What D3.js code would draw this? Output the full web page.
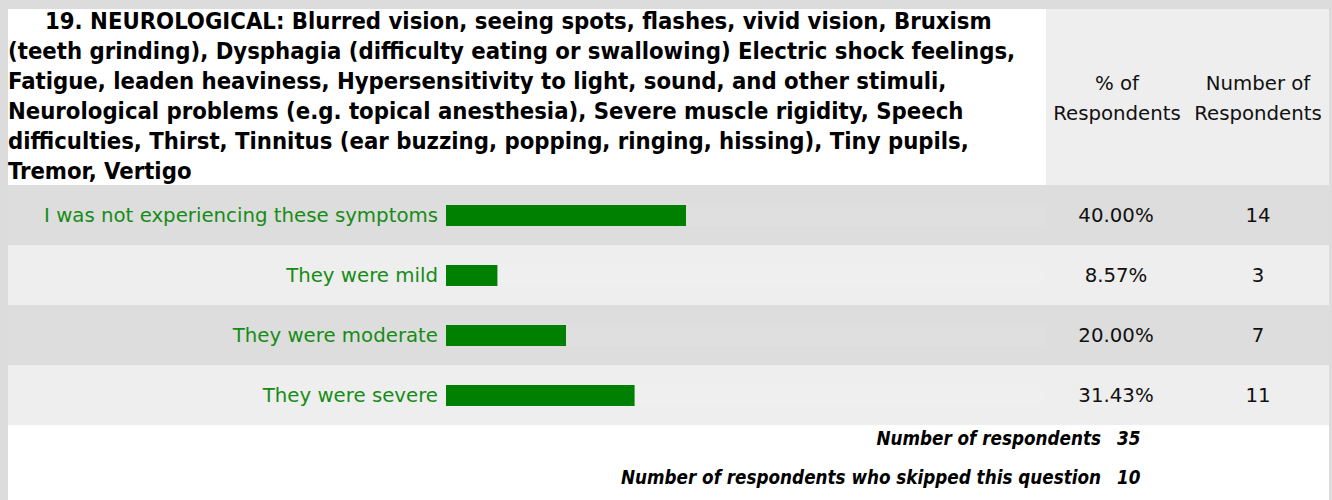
<!DOCTYPE html>
<html>
<head>
<meta charset="utf-8">
<script src="https://cdn.jsdelivr.net/npm/d3@7"></script>
<style>
  html, body { margin: 0; padding: 0; background: #dcdcdc; }
  svg { display: block; }
  .cond { font-family: "DejaVu Sans Condensed", "DejaVu Sans", sans-serif; font-stretch: condensed; }
  .reg { font-family: "DejaVu Sans", sans-serif; }
</style>
</head>
<body>
<svg id="chart" width="1332" height="500"></svg>
<script>
// Question text, wrapped into the lines it is shown on
const questionLines = [
  "19. NEUROLOGICAL: Blurred vision, seeing spots, flashes, vivid vision, Bruxism",
  "(teeth grinding), Dysphagia (difficulty eating or swallowing) Electric shock feelings,",
  "Fatigue, leaden heaviness, Hypersensitivity to light, sound, and other stimuli,",
  "Neurological problems (e.g. topical anesthesia), Severe muscle rigidity, Speech",
  "difficulties, Thirst, Tinnitus (ear buzzing, popping, ringing, hissing), Tiny pupils,",
  "Tremor, Vertigo"
];
const columnHeaders = [["% of", "Respondents"], ["Number of", "Respondents"]];

// Answer options and results
const categories = [
  "I was not experiencing these symptoms",
  "They were mild",
  "They were moderate",
  "They were severe"
];
const percents = [40.00, 8.57, 20.00, 31.43];
const counts = [14, 3, 7, 11];

// Summary lines
const summaryLabels = ["Number of respondents", "Number of respondents who skipped this question"];
const summaryValues = [35, 10];

const svg = d3.select("#chart");

// Table geometry
const tLeft = 8, tRight = 1329, tTop = 9;
const headerBottom = 185, rowH = 60;
const pctCol = [1046, 1189], numCol = [1189, 1329];
const barStart = 446;

const x = d3.scaleLinear().domain([0, 100]).range([barStart, barStart + 600]);
const y = d3.scaleBand().domain(d3.range(categories.length))
  .range([headerBottom, headerBottom + rowH * categories.length]).padding(0);

// Regular text size: the longest answer label spans the label cell
const probe = svg.append("text").attr("class", "reg").attr("font-size", 20).text(categories[0]);
const regSize = Math.max(17, Math.min(21, 20 * 394 / probe.node().getComputedTextLength()));
probe.remove();

// Header cells
svg.append("rect").attr("x", tLeft).attr("y", tTop)
  .attr("width", pctCol[0] - tLeft).attr("height", headerBottom - tTop).attr("fill", "#ffffff");
svg.append("rect").attr("x", pctCol[0]).attr("y", tTop)
  .attr("width", tRight - pctCol[0]).attr("height", headerBottom - tTop).attr("fill", "#eeeeee");

// Question text (bold), sized so the widest line fills the cell
const qText = svg.append("g").attr("class", "cond").attr("font-weight", "bold").attr("fill", "#000");
const qLines = qText.selectAll("text").data(questionLines).join("text")
  .attr("x", (d, i) => i === 0 ? 45 : tLeft)
  .attr("y", (d, i) => 29 + i * 30)
  .attr("font-size", 20)
  .text(d => d);
const w2 = qLines.nodes()[1].getComputedTextLength();
qLines.attr("font-size", 20 * 1008 / w2);

// Column headers
columnHeaders.forEach((lines, ci) => {
  const cx = ci === 0 ? 1117 : 1258;
  svg.append("text").attr("class", "reg")
    .attr("x", cx).attr("y", 90).attr("text-anchor", "middle")
    .attr("font-size", regSize).attr("fill", "#111")
    .selectAll("tspan").data(lines).join("tspan")
    .attr("x", cx).attr("dy", (d, i) => i === 0 ? 0 : 30)
    .text(d => d);
});

// Row backgrounds
const rows = svg.append("g").selectAll("g").data(categories).join("g")
  .attr("transform", (d, i) => `translate(0,${y(i)})`);
rows.append("rect").attr("x", tLeft).attr("width", tRight - tLeft).attr("height", y.bandwidth())
  .attr("fill", (d, i) => i % 2 === 0 ? "#dddddd" : "#eeeeee");

// Faint bar track
rows.append("rect").attr("x", barStart).attr("y", 20).attr("width", pctCol[0] - barStart).attr("height", 21)
  .attr("fill", "#ffffff").attr("opacity", 0.08);

// Bars
rows.append("rect").attr("x", x(0)).attr("y", 20)
  .attr("width", (d, i) => x(percents[i]) - x(0)).attr("height", 21)
  .attr("fill", "#008000");

// Category labels
rows.append("text").attr("class", "reg")
  .attr("x", 438).attr("y", 37).attr("text-anchor", "end")
  .attr("font-size", regSize).attr("fill", "#168c16")
  .text(d => d);

// Percentage and count columns
rows.append("text").attr("class", "reg")
  .attr("x", 1116).attr("y", 37).attr("text-anchor", "middle")
  .attr("font-size", regSize).attr("fill", "#111")
  .text((d, i) => percents[i].toFixed(2) + "%");
rows.append("text").attr("class", "reg")
  .attr("x", 1258).attr("y", 37).attr("text-anchor", "middle")
  .attr("font-size", regSize).attr("fill", "#111")
  .text((d, i) => counts[i]);

// Footer summary
const footTop = headerBottom + rowH * categories.length;
svg.append("rect").attr("x", tLeft).attr("y", footTop)
  .attr("width", tRight - tLeft).attr("height", 500 - footTop).attr("fill", "#ffffff");
const foot = svg.append("g").attr("class", "cond").attr("font-weight", "bold")
  .attr("font-style", "italic").attr("font-size", 18.7).attr("fill", "#000");
summaryLabels.forEach((s, i) => {
  foot.append("text").attr("x", 1101).attr("y", 445 + i * 38.5).attr("text-anchor", "end").text(s);
  foot.append("text").attr("x", 1117).attr("y", 445 + i * 38.5).text(summaryValues[i]);
});
</script>
</body>
</html>
